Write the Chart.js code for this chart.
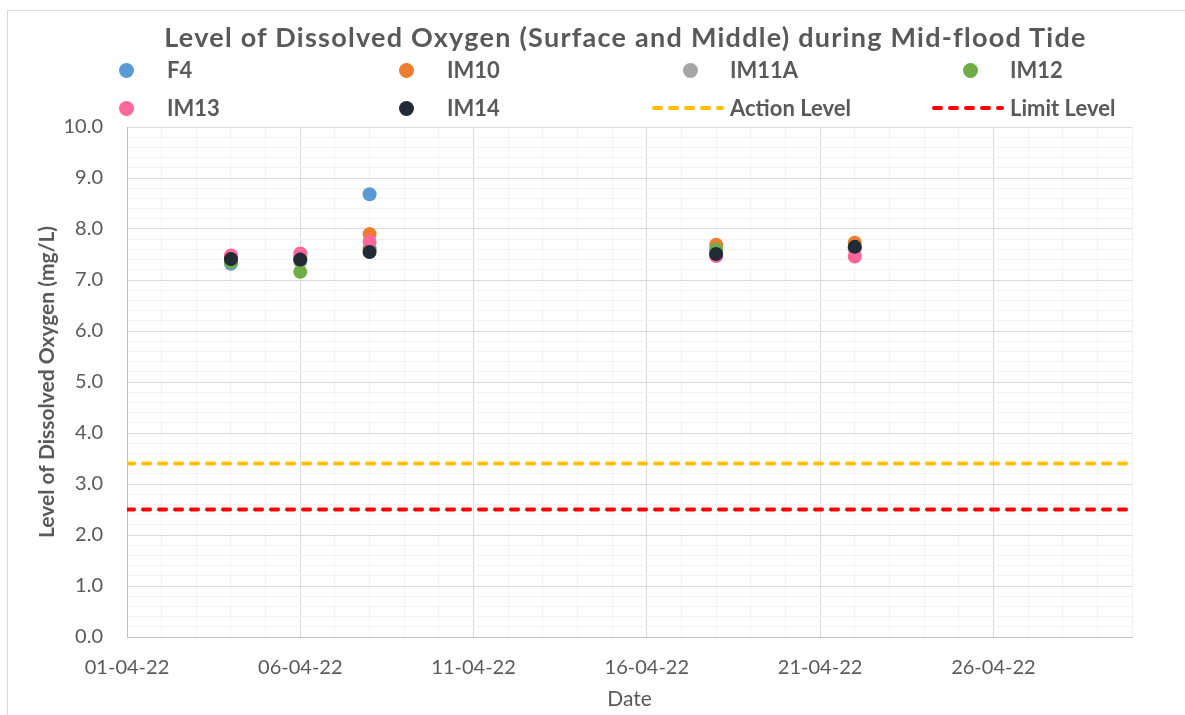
<!DOCTYPE html>
<html><head><meta charset="utf-8">
<script src="https://cdn.jsdelivr.net/npm/chart.js@4/dist/chart.umd.min.js"></script>
<style>
html,body{margin:0;padding:0;background:#fff;}
#wrap{position:relative;width:1185px;height:715px;overflow:hidden;background:#fff;}
#frame{position:absolute;left:7px;top:10px;width:1300px;height:800px;border-left:1px solid #d9d9d9;border-top:1px solid #d9d9d9;}
#c{position:absolute;left:0;top:0;}
#title{position:absolute;left:0;width:1251px;top:20px;height:34px;line-height:34px;text-align:center;font:bold 27px Lato, "Open Sans", sans-serif;letter-spacing:1.25px;color:#595959;white-space:nowrap;}
.lt{position:absolute;font:bold 22px Lato, "Open Sans", sans-serif;color:#595959;height:26px;line-height:26px;white-space:nowrap;}
.dot{position:absolute;width:15px;height:15px;border-radius:50%;}
svg.dash{position:absolute;overflow:visible;}
</style></head>
<body><div id="wrap"><div id="frame"></div><canvas id="c" width="1185" height="715"></canvas><div id="title">Level of Dissolved Oxygen (Surface and Middle) during Mid-flood Tide</div></div>
<script>
const dates = ['04-04-22','06-04-22','08-04-22','18-04-22','22-04-22'];
const F4    = [7.32, 7.42, 8.68, 7.52, 7.62];
const IM10  = [7.45, 7.45, 7.90, 7.69, 7.73];
const IM11A = [7.39, 7.36, 7.63, 7.55, 7.60];
const IM12  = [7.35, 7.16, 7.60, 7.60, 7.65];
const IM13  = [7.48, 7.52, 7.75, 7.47, 7.46];
const IM14  = [7.41, 7.40, 7.55, 7.51, 7.65];
const actionLevel = 3.4;
const limitLevel = 2.5;
const xStart = '01-04-22', xEnd = '30-04-22';
const xTickLabels = ['01-04-22','06-04-22','11-04-22','16-04-22','21-04-22','26-04-22'];
const seriesNames = ['F4','IM10','IM11A','IM12','IM13','IM14'];
const seriesValues = [F4, IM10, IM11A, IM12, IM13, IM14];
const seriesColors = ['#5B9BD5','#ED7D31','#A5A5A5','#70AD47','#FF6699','#222A35'];

const day = s => parseInt(s.slice(0,2),10);
const GRID_MAJOR = '#d9d9d9', GRID_MINOR = '#f2f2f2';
const FONT = 'Lato, "Open Sans", sans-serif';
const DASH = [7,9];

const datasets = seriesNames.map((n,i)=>({
  type:'scatter', label:n,
  data: dates.map((d,j)=>({x:day(d), y:seriesValues[i][j]})),
  backgroundColor: seriesColors[i], borderColor: seriesColors[i],
  pointRadius:7, pointHoverRadius:7, borderWidth:0, order: 10-i
}));
datasets.push({type:'line', label:'Action Level', data:[{x:day(xStart),y:actionLevel},{x:day(xEnd),y:actionLevel}],
  borderColor:'#FFC000', borderWidth:4, borderDash:DASH, borderCapStyle:'round', pointRadius:0, order:20});
datasets.push({type:'line', label:'Limit Level', data:[{x:day(xStart),y:limitLevel},{x:day(xEnd),y:limitLevel}],
  borderColor:'#FF0000', borderWidth:4, borderDash:DASH, borderCapStyle:'round', pointRadius:0, order:20});

new Chart(document.getElementById('c'), {
  type:'scatter',
  data:{datasets},
  options:{
    responsive:false, animation:false, events:[],
    layout:{padding:{left:0,right:53,top:127,bottom:0}},
    plugins:{legend:{display:false}, tooltip:{enabled:false}, title:{display:false}},
    scales:{
      x:{type:'linear', min:day(xStart), max:day(xEnd),
        afterFit:s=>{s.height=78;},
        ticks:{stepSize:1, autoSkip:false, maxRotation:0, padding:19, color:'#595959', font:{family:FONT,size:20},
          callback:v=>{const l=xTickLabels.find(t=>day(t)===v); return l?l:'';}},
        grid:{drawTicks:false, color:c=>xTickLabels.some(t=>day(t)===c.tick.value)?GRID_MAJOR:GRID_MINOR, lineWidth:1},
        border:{display:true,color:'#bfbfbf',width:1},
        title:{display:true, text:'Date', color:'#595959', font:{family:FONT,size:21}, padding:{top:0,bottom:3}}
      },
      y:{min:0, max:10,
        afterFit:s=>{s.width=127;},
        ticks:{stepSize:0.2, autoSkip:false, padding:24, color:'#595959', font:{family:FONT,size:20},
          callback:v=>Math.abs(v-Math.round(v))<1e-6?Math.round(v).toFixed(1):''},
        grid:{drawTicks:false, color:c=>Math.abs(c.tick.value-Math.round(c.tick.value))<1e-6?GRID_MAJOR:GRID_MINOR, lineWidth:1},
        border:{display:true,color:'#bfbfbf',width:1},
        title:{display:true, text:'Level of Dissolved Oxygen (mg/L)', color:'#595959', font:{family:FONT,size:21,weight:'bold'}, padding:{top:35,bottom:0}}
      }
    }
  }
});

// legend (HTML/SVG) built from dataset info
const wrap = document.getElementById('wrap');
const colMarkerX = [126, 406, 690, 970];
const colTextX = [167, 447, 730, 1010];
const rowY = [70, 108];
const legendItems = seriesNames.map((n,i)=>({name:n,color:seriesColors[i],kind:'dot'}))
  .concat([{name:'Action Level',color:'#FFC000',kind:'dash'},{name:'Limit Level',color:'#FF0000',kind:'dash'}]);
legendItems.forEach((it,k)=>{
  const r = Math.floor(k/4), c = k%4;
  const cy = rowY[r];
  if(it.kind==='dot'){
    const d=document.createElement('div'); d.className='dot';
    d.style.left=(colMarkerX[c]-7.5)+'px'; d.style.top=(cy-7.5)+'px'; d.style.background=it.color; wrap.appendChild(d);
  } else {
    const ns='http://www.w3.org/2000/svg';
    const s=document.createElementNS(ns,'svg'); s.setAttribute('class','dash');
    s.setAttribute('width','72'); s.setAttribute('height','8');
    s.style.left=(colTextX[c]-78)+'px'; s.style.top=(cy-4)+'px';
    const l=document.createElementNS(ns,'line');
    l.setAttribute('x1','2'); l.setAttribute('x2','70'); l.setAttribute('y1','4'); l.setAttribute('y2','4');
    l.setAttribute('stroke',it.color); l.setAttribute('stroke-width','4');
    l.setAttribute('stroke-dasharray',DASH.join(' ')); l.setAttribute('stroke-linecap','round');
    s.appendChild(l); wrap.appendChild(s);
  }
  const t=document.createElement('div'); t.className='lt'; t.textContent=it.name;
  t.style.left=colTextX[c]+'px'; t.style.top=(cy-13)+'px'; wrap.appendChild(t);
});
</script></body></html>
